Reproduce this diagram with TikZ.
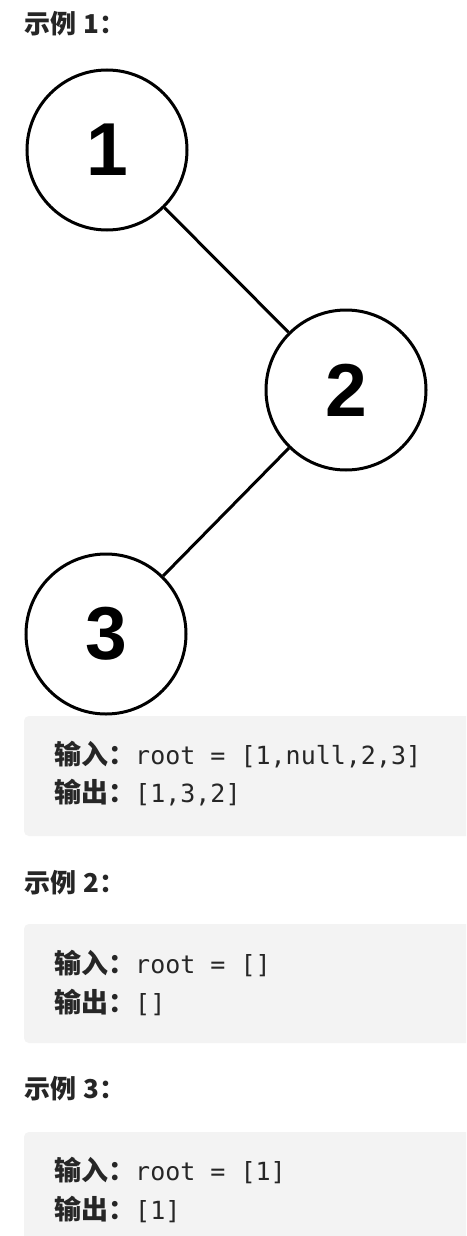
\documentclass[tikz,border=0pt]{standalone}
\usepackage{fontspec}
\newfontfamily\cjk{Noto Sans CJK SC}
\newfontfamily\mono{DejaVu Sans Mono}
\newfontfamily\arialb{Liberation Sans}
\definecolor{txt}{HTML}{262626}
\definecolor{codebg}{HTML}{F3F3F3}
\tikzset{
  treenode/.style={circle, draw=black, line width=3pt, minimum size=160pt, inner sep=0pt,
    font=\arialb\bfseries\fontsize{75}{75}\selectfont, text=black},
  treeedge/.style={draw=black, line width=3pt},
  heading/.style={anchor=base west, inner sep=0pt, text=txt, font=\cjk\bfseries\fontsize{26}{26}\selectfont},
  codeline/.style={anchor=base west, inner sep=0pt, text=txt},
  codebox/.style={fill=codebg, draw=none, rounded corners=5pt}
}
\newcommand{\zhlab}[1]{{\cjk\bfseries\fontsize{27}{27}\selectfont #1}}
\newcommand{\codetxt}[1]{{\mono\fontsize{25}{25}\selectfont #1}}
\begin{document}
\begin{tikzpicture}[x=1pt,y=-1pt]
\useasboundingbox (0,0) rectangle (466,1236);
\clip (0,0) rectangle (466,1236);
\fill[white] (0,0) rectangle (466,1236);

% Example 1
\node[heading] (h1) at (24,34) {示例\hspace{7pt}1：};
\node[treenode] (n1) at (107,150) {1};
\node[treenode] (n2) at (346,390) {2};
\node[treenode] (n3) at (106,634) {3};
\draw[treeedge] (n1) -- (n2);
\draw[treeedge] (n2) -- (n3);

\path[codebox] (24,716) rectangle (490,836);
\node[codeline] (c1a) at (54,764.5) {\zhlab{输入：}\codetxt{root = [1,null,2,3]}};
\node[codeline] (c1b) at (54,802) {\zhlab{输出：}\codetxt{[1,3,2]}};

% Example 2
\node[heading] (h2) at (24,892) {示例\hspace{7pt}2：};
\path[codebox] (24,924) rectangle (490,1043);
\node[codeline] (c2a) at (54,973.5) {\zhlab{输入：}\codetxt{root = []}};
\node[codeline] (c2b) at (54,1012) {\zhlab{输出：}\codetxt{[]}};

% Example 3
\node[heading] (h3) at (24,1098.5) {示例\hspace{7pt}3：};
\path[codebox] (24,1132) rectangle (490,1270);
\node[codeline] (c3a) at (54,1180) {\zhlab{输入：}\codetxt{root = [1]}};
\node[codeline] (c3b) at (54,1219.5) {\zhlab{输出：}\codetxt{[1]}};
\end{tikzpicture}
\end{document}
